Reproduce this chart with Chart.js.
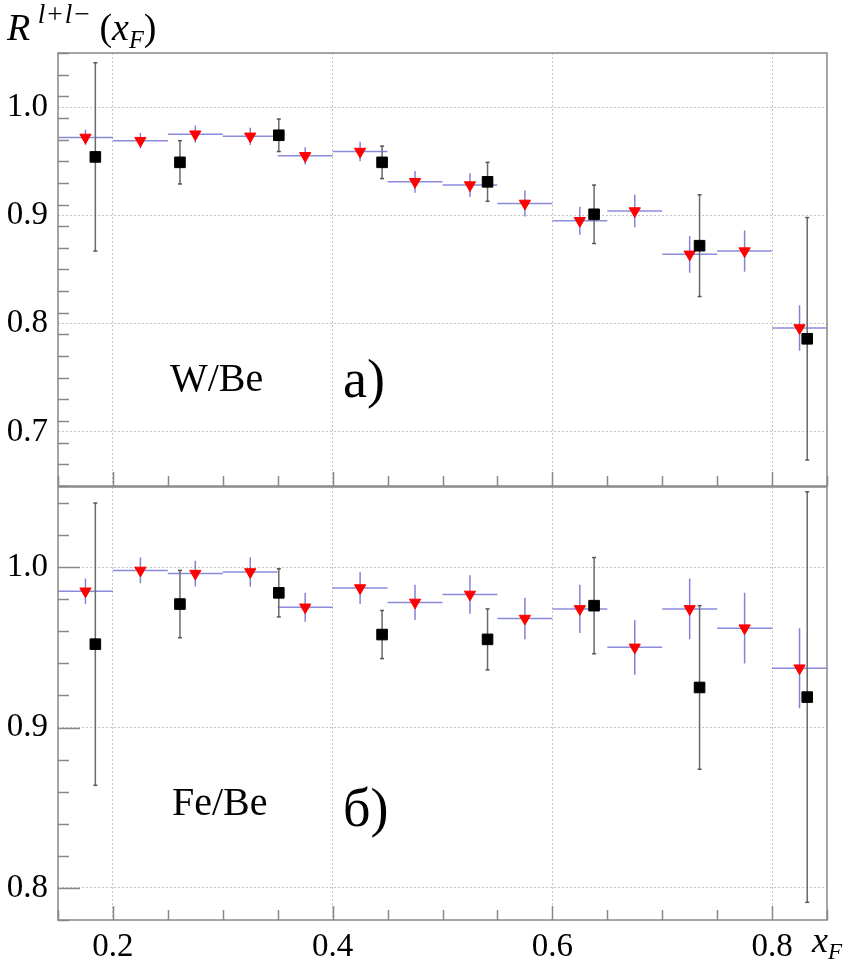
<!DOCTYPE html>
<html>
<head>
<meta charset="utf-8">
<script src="https://cdn.jsdelivr.net/npm/chart.js@4.4.1/dist/chart.umd.min.js"></script>
<style>
  body { margin: 0; background: #fff; }
  canvas { position: absolute; left: 0; }
  .txt { position: absolute; white-space: nowrap; line-height: 1; color: #000; }
  sup, sub { line-height: 0; position: relative; vertical-align: 0; }
  sup { font-size: 72%; top: -0.62em; letter-spacing: 2px; }
  sub { font-size: 64%; top: 0.32em; }
</style>
</head>
<body>
<div id="wrap" style="position:relative; width:854px; height:965px; overflow:hidden; font-family:'Liberation Serif', serif;">
  <canvas id="grafico_top" width="854" height="487" style="top:0"></canvas>
  <canvas id="grafico_bot" width="854" height="479" style="top:486px"></canvas>

  <div class="txt" style="left:7px; top:8px; font-size:38px; font-family:'Liberation Serif', serif;"><i>R</i><sup>&thinsp;<i>l</i>+<i>l</i>−</sup>&thinsp;(<i>x</i><sub><i>F</i></sub>)</div>
  <div class="txt" style="left:170px; top:358px; font-size:40px; font-family:'Liberation Serif', serif;">W/Be</div>
  <div class="txt" style="left:343px; top:352px; font-size:54px; font-family:'Liberation Serif', serif;">а)</div>
  <div class="txt" style="left:172px; top:782px; font-size:40px; font-family:'Liberation Serif', serif;">Fe/Be</div>
  <div class="txt" style="left:343px; top:781px; font-size:54px; font-family:'Liberation Serif', serif;">б)</div>
  <div class="txt" style="left:812px; top:922px; font-size:36px; font-family:'Liberation Serif', serif;"><i>x</i><sub><i>F</i></sub></div>
</div>

<script>
const SERIF = 'Liberation Serif';

// bins of the red series (x_F)
const binEdges = [0.15, 0.20, 0.25, 0.30, 0.35, 0.40, 0.45, 0.50, 0.55, 0.60, 0.65, 0.70, 0.75, 0.80, 0.85];
const redX = [0.175, 0.225, 0.275, 0.325, 0.375, 0.425, 0.475, 0.525, 0.575, 0.625, 0.675, 0.725, 0.775, 0.825];
const blackX = [0.184, 0.261, 0.351, 0.445, 0.541, 0.638, 0.734, 0.832];

// a) W/Be
const redTopY   = [0.972, 0.969, 0.975, 0.973, 0.955, 0.959, 0.931, 0.928, 0.911, 0.895, 0.904, 0.864, 0.867, 0.796];
const redTopErr = [0.007, 0.007, 0.008, 0.008, 0.008, 0.009, 0.010, 0.011, 0.012, 0.013, 0.015, 0.017, 0.019, 0.021];
const blackTopY   = [0.954, 0.949, 0.974, 0.949, 0.931, 0.901, 0.872, 0.786];
const blackTopErr = [0.087, 0.020, 0.015, 0.015, 0.018, 0.027, 0.047, 0.112];

// б) Fe/Be
const redBotY   = [0.985, 0.998, 0.996, 0.997, 0.975, 0.987, 0.978, 0.983, 0.968, 0.974, 0.950, 0.974, 0.962, 0.937];
const redBotErr = [0.008, 0.008, 0.008, 0.009, 0.009, 0.010, 0.011, 0.012, 0.013, 0.015, 0.017, 0.019, 0.022, 0.025];
const blackBotY   = [0.952, 0.977, 0.984, 0.958, 0.955, 0.976, 0.925, 0.919];
const blackBotErr = [0.088, 0.021, 0.015, 0.015, 0.019, 0.030, 0.051, 0.128];

// ticks
const xTicks = [0.2, 0.4, 0.6, 0.8];
const yTicksTop = [0.7, 0.8, 0.9, 1.0];
const yTicksBot = [0.8, 0.9, 1.0];

function binLines(vals) {
    const pts = [];
    vals.forEach(function (v, i) {
        pts.push({x: binEdges[i], y: v}, {x: binEdges[i + 1], y: v}, {x: binEdges[i + 1], y: null});
    });
    return pts;
}

function errLines(xs, vals, errs) {
    const pts = [];
    vals.forEach(function (v, i) {
        pts.push({x: xs[i], y: v - errs[i]}, {x: xs[i], y: v + errs[i]}, {x: xs[i], y: null});
    });
    return pts;
}

// frame + inward ticks like ROOT
const marcoPlugin = {
    id: 'marco',
    afterDatasetsDraw(chart) {
        const c = chart.ctx, a = chart.chartArea;
        const sx = chart.scales.x, sy = chart.scales.y;
        c.save();
        c.strokeStyle = '#888';
        c.lineWidth = 1.5;
        c.beginPath();
        for (let v = 0.15; v <= 0.851; v += 0.05) {
            const p = Math.round(sx.getPixelForValue(v)) + 0.5;
            const major = Math.abs(v * 5 - Math.round(v * 5)) < 1e-6;
            c.moveTo(p, a.bottom);
            c.lineTo(p, a.bottom - (major ? 14 : 10));
        }
        for (let v = sy.min; v <= sy.max + 1e-6; v += 0.02) {
            const p = Math.round(sy.getPixelForValue(v)) + 0.5;
            const major = Math.abs(v * 10 - Math.round(v * 10)) < 1e-6;
            c.moveTo(a.left, p);
            c.lineTo(a.left + (major ? 22 : 11), p);
        }
        c.stroke();
        c.strokeRect(a.left, a.top, a.right - a.left, a.bottom - a.top);
        c.restore();
    }
};

function makePanel(id, cfg) {
    const ctx = document.getElementById(id);
    return new Chart(ctx, {
        type: 'scatter',
        data: {
            datasets: [
                {
                    label: 'black',
                    data: cfg.blackY.map(function (v, i) { return {x: blackX[i], y: v}; }),
                    pointStyle: 'rect', pointRadius: 7.5, pointHoverRadius: 7.5,
                    backgroundColor: '#000', borderColor: '#000', borderWidth: 1,
                    order: 0
                },
                {
                    label: 'red',
                    data: cfg.redY.map(function (v, i) { return {x: redX[i], y: v}; }),
                    pointStyle: 'triangle', rotation: 180, pointRadius: 6.5, pointHoverRadius: 6.5,
                    backgroundColor: '#ff0000', borderColor: '#ff0000', borderWidth: 1,
                    order: 1
                },
                {
                    label: 'black err',
                    data: errLines(blackX, cfg.blackY, cfg.blackErr),
                    showLine: true, spanGaps: false,
                    borderColor: '#6a6a6a', borderWidth: 1.5,
                    pointStyle: 'line', pointRadius: 2, pointBorderColor: '#555', pointBorderWidth: 1.5,
                    order: 2
                },
                {
                    label: 'red err',
                    data: errLines(redX, cfg.redY, cfg.redErr),
                    showLine: true, spanGaps: false,
                    borderColor: 'rgba(100,100,205,0.8)', borderWidth: 1.5, pointRadius: 0,
                    order: 3
                },
                {
                    label: 'red bins',
                    data: binLines(cfg.redY),
                    showLine: true, spanGaps: false,
                    borderColor: 'rgba(100,100,205,0.75)', borderWidth: 1.5, pointRadius: 0,
                    order: 4
                }
            ]
        },
        options: {
            responsive: false,
            animation: false,
            events: [],
            layout: { padding: cfg.padding, autoPadding: false },
            plugins: { legend: { display: false }, tooltip: { enabled: false } },
            scales: {
                x: {
                    type: 'linear', min: 0.15, max: 0.85,
                    afterBuildTicks: function (s) { s.ticks = xTicks.map(function (v) { return {value: v}; }); },
                    afterFit: function (s) {
                        s.height = cfg.showX ? 45 : 0;
                        s.paddingLeft = 0; s.paddingRight = 0;
                    },
                    grid: { color: '#c4c4c4', lineWidth: 1, drawTicks: false },
                    border: { display: false, dash: [2, 2] },
                    ticks: {
                        display: cfg.showX, padding: 8, color: '#000', maxRotation: 0,
                        font: { family: SERIF, size: 33 },
                        callback: function (v) { return v.toFixed(1); }
                    }
                },
                y: {
                    type: 'linear', min: cfg.yMin, max: cfg.yMax,
                    afterBuildTicks: function (s) { s.ticks = cfg.yTicks.map(function (v) { return {value: v}; }); },
                    afterFit: function (s) {
                        s.width = 58;
                        s.paddingTop = 0; s.paddingBottom = 0;
                    },
                    grid: { color: '#c4c4c4', lineWidth: 1, drawTicks: false },
                    border: { display: false, dash: [2, 2] },
                    ticks: {
                        padding: 10, color: '#000',
                        font: { family: SERIF, size: 33 },
                        callback: function (v) { return v.toFixed(1); }
                    }
                }
            }
        },
        plugins: [marcoPlugin]
    });
}

makePanel('grafico_top', {
    redY: redTopY, redErr: redTopErr, blackY: blackTopY, blackErr: blackTopErr,
    yMin: 0.65, yMax: 1.05, yTicks: yTicksTop, showX: false,
    padding: { top: 53, right: 27, bottom: 1, left: 0 }
});

makePanel('grafico_bot', {
    redY: redBotY, redErr: redBotErr, blackY: blackBotY, blackErr: blackBotErr,
    yMin: 0.78, yMax: 1.05, yTicks: yTicksBot, showX: true,
    padding: { top: 1, right: 27, bottom: 0, left: 0 }
});
</script>
</body>
</html>
